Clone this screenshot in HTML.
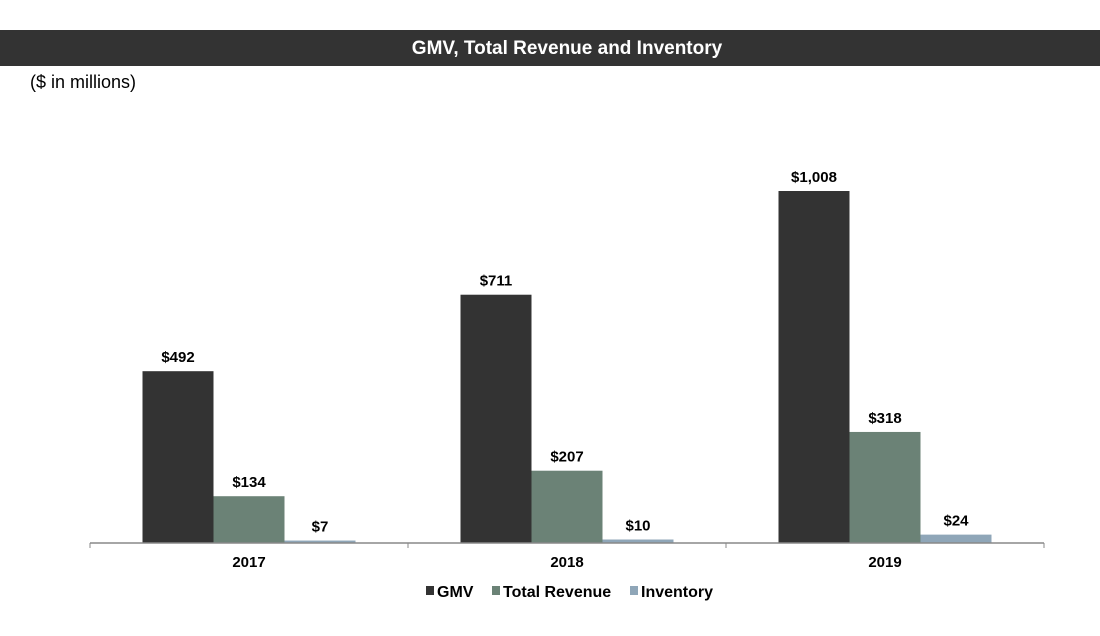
<!DOCTYPE html>
<html><head><meta charset="utf-8"><style>
html,body{margin:0;padding:0;background:#fff;width:1100px;height:636px;overflow:hidden;font-family:"Liberation Sans",Arial,sans-serif}
</style></head><body>
<svg id="chart" width="1100" height="636" xmlns="http://www.w3.org/2000/svg">
<rect x="0" y="30" width="1100" height="36" fill="#333333"/>
<text x="567" y="54" text-anchor="middle" fill="#fff" font-size="19" font-weight="bold" font-family="Liberation Sans, sans-serif">GMV, Total Revenue and Inventory</text>
<text x="30" y="88" fill="#000" font-size="18" font-family="Liberation Sans, sans-serif">($ in millions)</text>
<g id="bars"></g>
<line x1="90" y1="543" x2="1044" y2="543" stroke="#888" stroke-width="1.5"/>
<g id="ticks"></g>
<g font-size="16" font-weight="bold" font-family="Liberation Sans, sans-serif">
<rect x="426" y="586" width="8" height="9" fill="#333333"/>
<text x="437" y="597">GMV</text>
<rect x="492" y="586" width="8" height="9" fill="#6b8276"/>
<text x="503" y="597">Total Revenue</text>
<rect x="630" y="586" width="8" height="9" fill="#8fa6b8"/>
<text x="641" y="597">Inventory</text>
</g>
</svg>
<script>
const categories = ["2017","2018","2019"];
const gmv = [492,711,1008];
const revenue = [134,207,318];
const inventory = [7,10,24];
const valueLabels = [["$492","$134","$7"],["$711","$207","$10"],["$1,008","$318","$24"]];

const ns="http://www.w3.org/2000/svg";
const baseY=543, scale=352/1008, left=90, catW=318, barW=71;
const colors=["#333333","#6b8276","#8fa6b8"];
const names=["gmv","revenue","inventory"];
const series=[gmv,revenue,inventory];
const yPix=v=>baseY-v*scale;
const xCenter=i=>left+catW*(i+0.5);
const gBars=document.getElementById('bars');
const gT=document.getElementById('ticks');
categories.forEach((c,i)=>{
  series.forEach((s,k)=>{
    const x=xCenter(i)-1.5*barW+k*barW;
    const r=document.createElementNS(ns,'rect');
    r.setAttribute('x',x);r.setAttribute('y',yPix(s[i]));
    r.setAttribute('width',barW);r.setAttribute('height',Math.max(baseY-yPix(s[i]),2));
    r.setAttribute('fill',colors[k]);
    
    
    gBars.appendChild(r);
    const t=document.createElementNS(ns,'text');
    t.setAttribute('x',x+barW/2);t.setAttribute('y',yPix(s[i])-9);
    t.setAttribute('text-anchor','middle');t.setAttribute('font-size','15');t.setAttribute('font-weight','bold');
    t.textContent=valueLabels[i][k];
    
    
    gBars.appendChild(t);
  });
  const lt=document.createElementNS(ns,'text');
  lt.setAttribute('x',xCenter(i));lt.setAttribute('y',567);
  lt.setAttribute('text-anchor','middle');lt.setAttribute('font-size','15');lt.setAttribute('font-weight','bold');
  lt.textContent=c;
  
  
  gT.appendChild(lt);
});
for(let i=0;i<=categories.length;i++){
  const l=document.createElementNS(ns,'line');
  l.setAttribute('x1',left+catW*i);l.setAttribute('x2',left+catW*i);
  l.setAttribute('y1',baseY);l.setAttribute('y2',baseY+5);
  l.setAttribute('stroke','#888');
  
  
  gT.appendChild(l);
}
</script>
</body></html>
